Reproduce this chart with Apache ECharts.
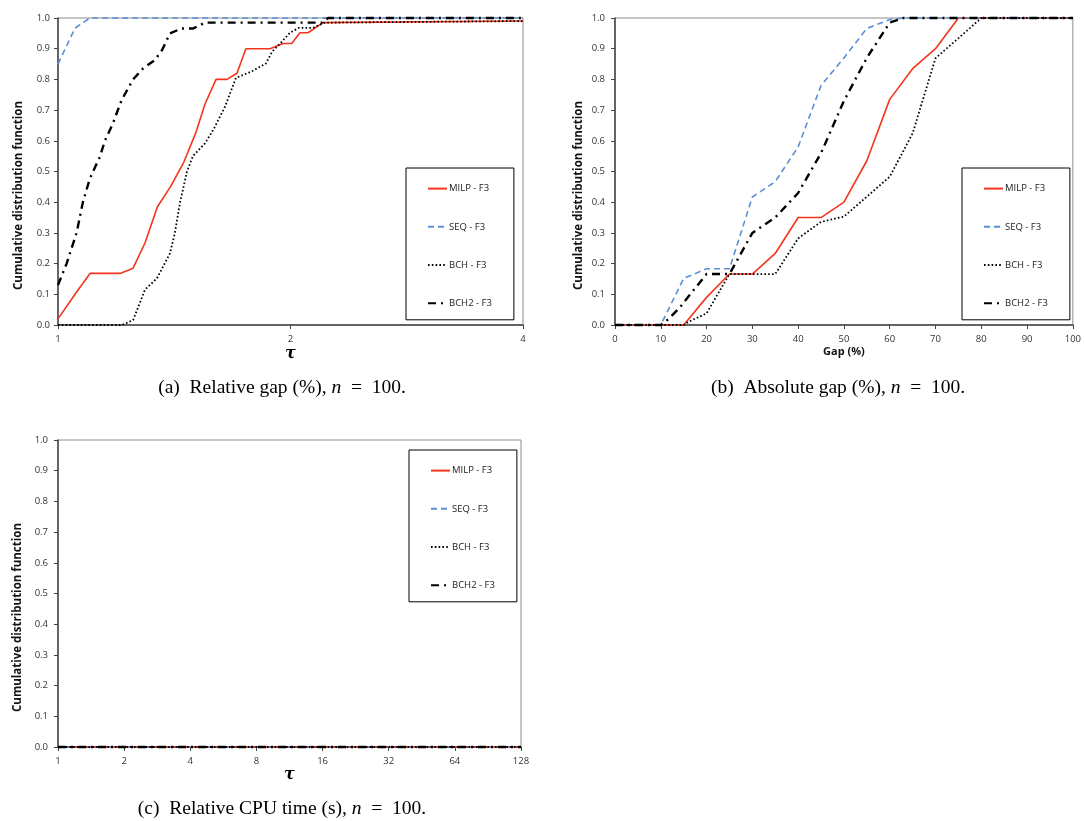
<!DOCTYPE html>
<html>
<head>
<meta charset="utf-8">
<script src="https://cdn.jsdelivr.net/npm/echarts@6/dist/echarts.min.js"></script>
<style>
html,body{margin:0;padding:0;background:#fff;}
#chart{width:1084px;height:821px;}
</style>
</head>
<body>
<div id="chart"></div>
<script>
// ---------- data ----------
const seriesNames = ['MILP - F3', 'SEQ - F3', 'BCH - F3', 'BCH2 - F3'];

// (a) relative gap, tau (log2 axis)
const relMILP_x = [1.0, 1.052, 1.10, 1.203, 1.251, 1.296, 1.345, 1.398, 1.455, 1.51, 1.55, 1.602, 1.655, 1.705, 1.751, 1.882, 1.956, 2.007, 2.057, 2.107, 2.203, 4];
const relMILP_y = [0.02, 0.10, 0.168, 0.168, 0.185, 0.267, 0.385, 0.45, 0.53, 0.63, 0.72, 0.80, 0.80, 0.82, 0.90, 0.90, 0.917, 0.917, 0.952, 0.952, 0.985, 0.99];
const relSEQ_x = [1.0, 1.052, 1.10, 4];
const relSEQ_y = [0.85, 0.967, 1.0, 1.0];
const relBCH_x = [1.0, 1.210, 1.251, 1.296, 1.343, 1.396, 1.417, 1.439, 1.469, 1.495, 1.550, 1.592, 1.645, 1.700, 1.778, 1.859, 1.893, 1.944, 1.997, 2.051, 2.139, 2.217, 4];
const relBCH_y = [0.0, 0.0, 0.016, 0.115, 0.152, 0.233, 0.30, 0.40, 0.50, 0.55, 0.592, 0.64, 0.711, 0.805, 0.825, 0.852, 0.89, 0.92, 0.952, 0.968, 0.968, 0.985, 0.99];
const relBCH2_x = [1.0, 1.026, 1.057, 1.077, 1.100, 1.133, 1.150, 1.178, 1.209, 1.251, 1.289, 1.335, 1.364, 1.396, 1.446, 1.497, 1.550, 2.203, 2.237, 4];
const relBCH2_y = [0.13, 0.20, 0.30, 0.40, 0.478, 0.548, 0.60, 0.657, 0.733, 0.80, 0.836, 0.863, 0.896, 0.95, 0.966, 0.966, 0.985, 0.985, 1.0, 1.0];

// (b) absolute gap (%)
const absMILP_x = [0, 15, 20, 25, 30, 35, 40, 45, 50, 55, 60, 65, 70, 75, 100];
const absMILP_y = [0, 0, 0.09, 0.166, 0.166, 0.233, 0.35, 0.35, 0.40, 0.535, 0.735, 0.835, 0.90, 1.0, 1.0];
const absSEQ_x = [0, 10, 15, 20, 25, 30, 35, 40, 45, 50, 55, 60, 63, 100];
const absSEQ_y = [0, 0, 0.152, 0.183, 0.183, 0.417, 0.467, 0.58, 0.78, 0.87, 0.966, 0.995, 1.0, 1.0];
const absBCH_x = [0, 15, 16, 20, 25, 35, 40, 45, 50, 55, 60, 65, 70, 75, 80, 100];
const absBCH_y = [0, 0, 0.01, 0.038, 0.166, 0.166, 0.282, 0.336, 0.353, 0.418, 0.483, 0.624, 0.869, 0.934, 1.0, 1.0];
const absBCH2_x = [0, 10, 11, 14, 16, 20, 25, 30, 35, 40, 45, 50, 55, 60, 63, 100];
const absBCH2_y = [0, 0, 0.01, 0.054, 0.092, 0.166, 0.166, 0.30, 0.35, 0.43, 0.56, 0.73, 0.87, 0.985, 1.0, 1.0];

// (c) relative CPU time, tau (log2 axis) - all at zero
const cpu_x = [1, 128];
const cpuMILP_y = [0, 0];
const cpuSEQ_y = [0, 0];
const cpuBCH_y = [0, 0];
const cpuBCH2_y = [0, 0];

const captions = [
  '(a)  Relative gap (%), {i|n}  =  100.',
  '(b)  Absolute gap (%), {i|n}  =  100.',
  '(c)  Relative CPU time (s), {i|n}  =  100.'
];

// ---------- styles ----------
const zip = (xs, ys) => xs.map((x, i) => [x, ys[i]]);
const LS = {
  'MILP - F3': {color: '#F4351C', width: 1.6, type: 'solid'},
  'SEQ - F3':  {color: '#5A8FD2', width: 1.6, type: [6, 4]},
  'BCH - F3':  {color: '#000000', width: 1.8, type: [1.6, 2.2]},
  'BCH2 - F3': {color: '#000000', width: 2.4, type: [8, 5, 2, 5]}
};
const FONT = 'Open Sans';
const tickFont = {fontFamily: FONT, fontSize: 9.5, color: '#333'};
const yTitleStyle = {fontFamily: FONT, fontSize: 11.5, fontWeight: 'bold', color: '#111', padding: [0, 48, 0, 0]};

function mkSeries(name, data, gi) {
  const s = LS[name];
  return {
    name: name, type: 'line', xAxisIndex: gi, yAxisIndex: gi, data: data,
    symbol: 'none', showSymbol: false, animation: false,
    lineStyle: {color: s.color, width: s.width, type: s.type},
    itemStyle: {color: s.color},
    clip: false
  };
}

const grids = [
  {left: 58, top: 18, width: 465, height: 307},
  {left: 615, top: 18, width: 464, height: 307},
  {left: 58, top: 440, width: 463, height: 307}
].map(g => Object.assign(g, {show: true, borderColor: '#8c8c8c', borderWidth: 1, backgroundColor: 'transparent'}));

function yAxis(gi, margin, gap) {
  return {
    type: 'value', gridIndex: gi, min: 0, max: 1, interval: 0.1,
    axisLine: {show: true, lineStyle: {color: '#444', width: 1.5}},
    axisTick: {show: true, length: 4, lineStyle: {color: '#444'}},
    axisLabel: Object.assign({margin: margin, formatter: v => v.toFixed(1)}, tickFont),
    splitLine: {show: false},
    name: 'Cumulative distribution function', nameLocation: 'middle', nameGap: gap,
    nameTextStyle: yTitleStyle
  };
}
const tauName = {fontFamily: 'DejaVu Serif', fontSize: 16, fontWeight: 'bold', fontStyle: 'italic', color: '#000'};

const option = {
  backgroundColor: '#fff',
  animation: false,
  grid: grids,
  xAxis: [
    {type: 'log', logBase: 2, gridIndex: 0, min: 1, max: 4, interval: 1,
     axisLine: {show: true, onZero: false, lineStyle: {color: '#444', width: 1.5}},
     axisTick: {show: true, length: 4, lineStyle: {color: '#444'}},
     axisLabel: Object.assign({margin: 9}, tickFont),
     splitLine: {show: false}, minorTick: {show: false},
     name: 'τ', nameLocation: 'middle', nameGap: 21, nameTextStyle: tauName},
    {type: 'value', gridIndex: 1, min: 0, max: 100, interval: 10,
     axisLine: {show: true, onZero: false, lineStyle: {color: '#444', width: 1.5}},
     axisTick: {show: true, length: 4, lineStyle: {color: '#444'}},
     axisLabel: Object.assign({margin: 9}, tickFont),
     splitLine: {show: false},
     name: 'Gap (%)', nameLocation: 'middle', nameGap: 21,
     nameTextStyle: {fontFamily: FONT, fontSize: 11, fontWeight: 'bold', color: '#111'}},
    {type: 'log', logBase: 2, gridIndex: 2, min: 1, max: 128, interval: 1,
     axisLine: {show: true, onZero: false, lineStyle: {color: '#444', width: 1.5}},
     axisTick: {show: true, length: 4, lineStyle: {color: '#444'}},
     axisLabel: Object.assign({margin: 9}, tickFont),
     splitLine: {show: false}, minorTick: {show: false},
     name: 'τ', nameLocation: 'middle', nameGap: 20, nameTextStyle: tauName}
  ],
  yAxis: [yAxis(0, 8, 33), yAxis(1, 10, 30), yAxis(2, 10, 34)],
  legend: [
    {left: 406, top: 168}, {left: 962, top: 168}, {left: 409, top: 450}
  ].map(p => Object.assign(p, {
    orient: 'vertical', data: seriesNames, itemWidth: 19, itemHeight: 14, itemGap: 27,
    padding: [15, 22, 11, 21], borderColor: '#000', borderWidth: 1,
    backgroundColor: '#fff', selectedMode: false,
    itemStyle: {color: 'transparent', borderWidth: 0, opacity: 0},
    textStyle: {fontFamily: FONT, fontSize: 9.5, color: '#222', padding: [0, 0, 0, -3]}
  })),
  graphic: [
    {pos: [282, 388]}, {pos: [838, 388]}, {pos: [282, 809]}
  ].map((c, i) => ({
    type: 'text', x: c.pos[0], y: c.pos[1], silent: true,
    style: {
      text: captions[i], align: 'center', verticalAlign: 'middle',
      fontFamily: 'Liberation Serif', fontSize: 19.5, fill: '#000',
      rich: {i: {fontFamily: 'Liberation Serif', fontSize: 19.5, fontStyle: 'italic', fill: '#000'}}
    }
  })),
  series: [
    mkSeries('MILP - F3', zip(relMILP_x, relMILP_y), 0),
    mkSeries('SEQ - F3', zip(relSEQ_x, relSEQ_y), 0),
    mkSeries('BCH - F3', zip(relBCH_x, relBCH_y), 0),
    mkSeries('BCH2 - F3', zip(relBCH2_x, relBCH2_y), 0),
    mkSeries('MILP - F3', zip(absMILP_x, absMILP_y), 1),
    mkSeries('SEQ - F3', zip(absSEQ_x, absSEQ_y), 1),
    mkSeries('BCH - F3', zip(absBCH_x, absBCH_y), 1),
    mkSeries('BCH2 - F3', zip(absBCH2_x, absBCH2_y), 1),
    mkSeries('MILP - F3', zip(cpu_x, cpuMILP_y), 2),
    mkSeries('SEQ - F3', zip(cpu_x, cpuSEQ_y), 2),
    mkSeries('BCH - F3', zip(cpu_x, cpuBCH_y), 2),
    mkSeries('BCH2 - F3', zip(cpu_x, cpuBCH2_y), 2)
  ]
};

const chart = echarts.init(document.getElementById('chart'), null, {renderer: 'canvas'});
chart.setOption(option);
</script>
</body>
</html>
